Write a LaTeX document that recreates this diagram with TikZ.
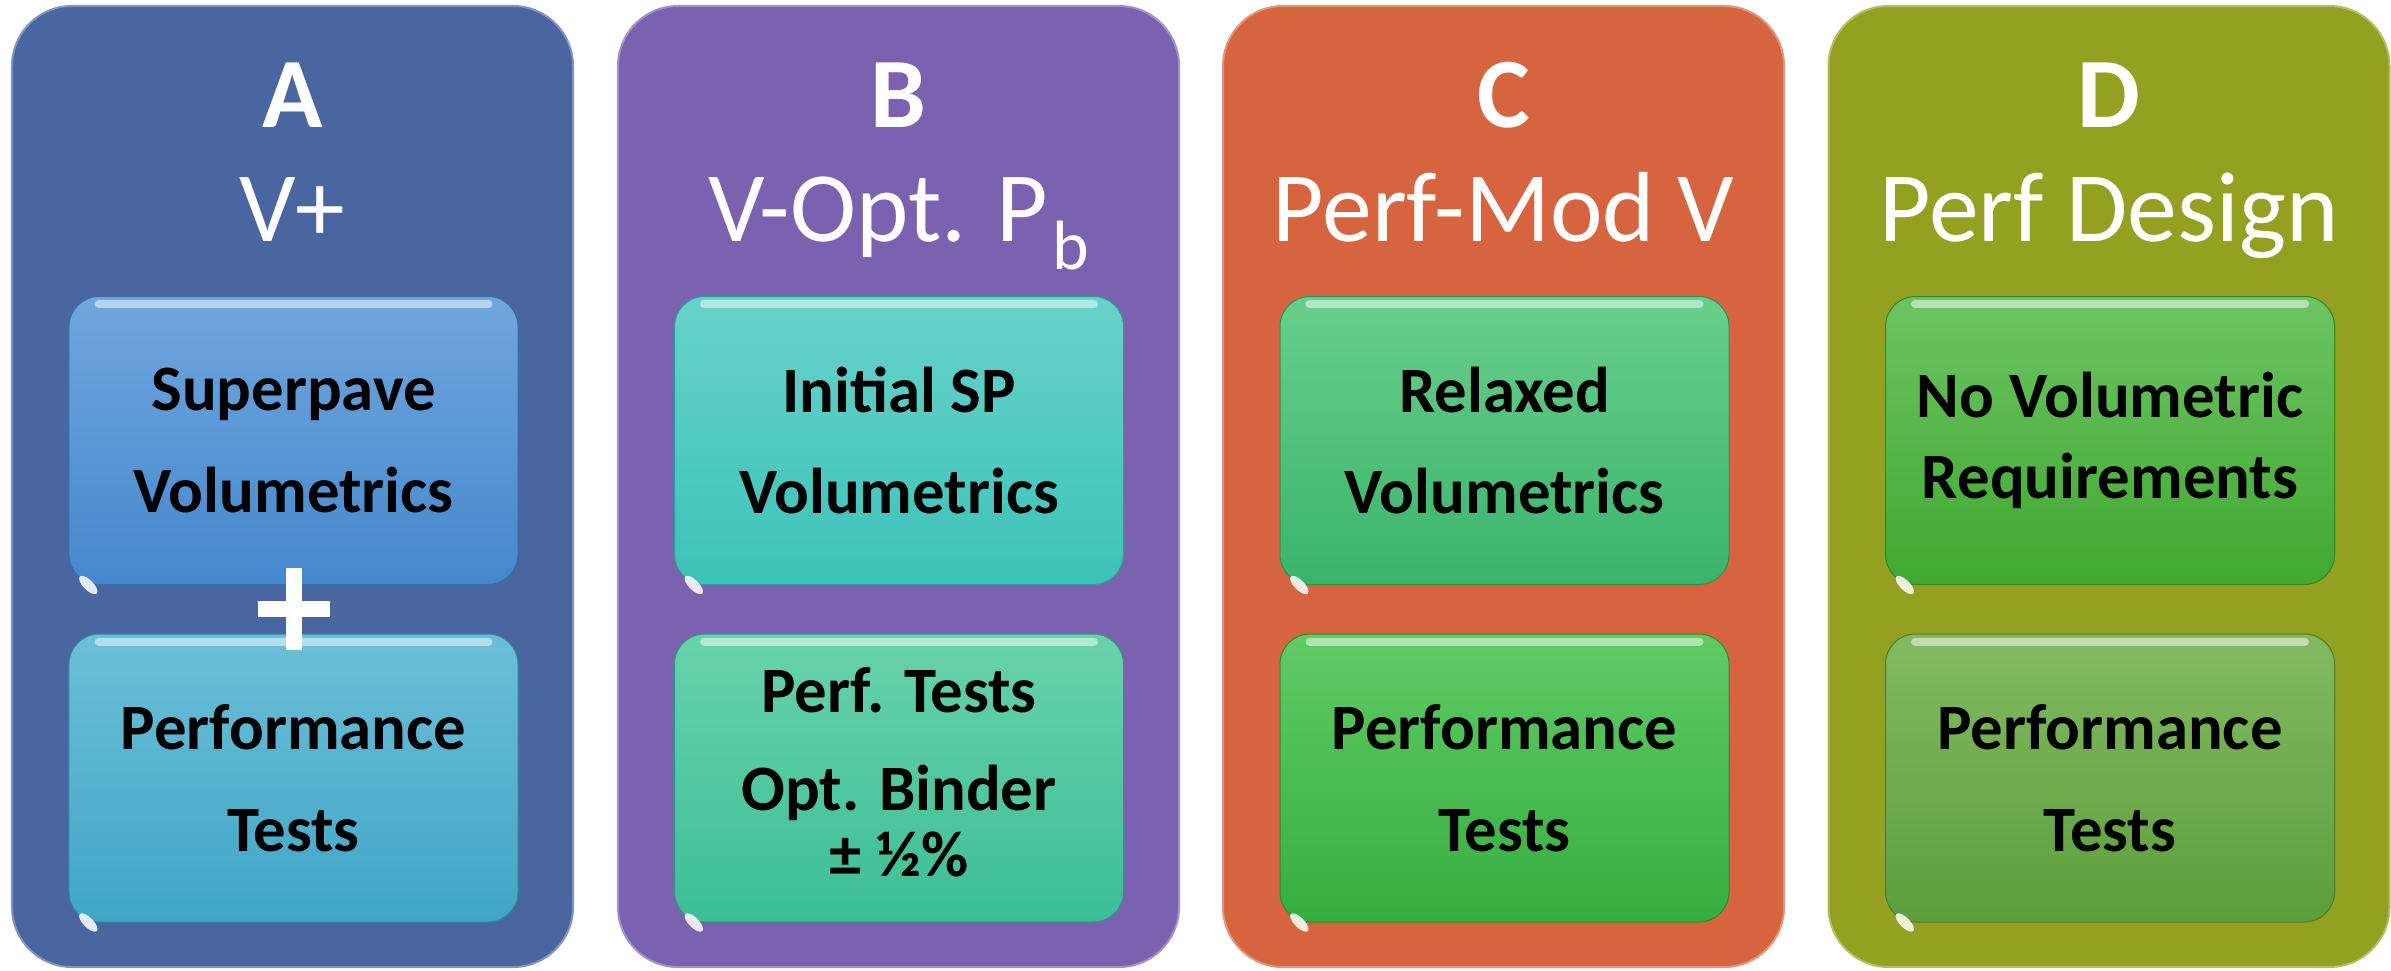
\documentclass[tikz,border=0pt]{standalone}
\usepackage{fontspec}
\setmainfont{Carlito}
\usetikzlibrary{calc}
\definecolor{pA}{HTML}{4A66A0}
\definecolor{pB}{HTML}{7A62B0}
\definecolor{pC}{HTML}{D6653F}
\definecolor{pD}{HTML}{93A020}
\definecolor{aT1}{HTML}{70A6DE}\definecolor{aT2}{HTML}{4488CC}
\definecolor{aB1}{HTML}{6CBED8}\definecolor{aB2}{HTML}{40A6C6}
\definecolor{bT1}{HTML}{68D2CA}\definecolor{bT2}{HTML}{3CC2B8}
\definecolor{bB1}{HTML}{68D2AC}\definecolor{bB2}{HTML}{3CBE96}
\definecolor{cT1}{HTML}{68CE8C}\definecolor{cT2}{HTML}{3AB46A}
\definecolor{cB1}{HTML}{60CA64}\definecolor{cB2}{HTML}{36AE40}
\definecolor{dT1}{HTML}{6CC462}\definecolor{dT2}{HTML}{40A830}
\definecolor{dB1}{HTML}{82BA62}\definecolor{dB2}{HTML}{5C9E3A}
\tikzset{
  panel/.style={rounded corners=60bp, minimum width=561bp, minimum height=961bp,
    inner sep=0pt, fill=#1, draw=#1!70!white, line width=2bp},
  box/.style 2 args={rounded corners=30bp, minimum width=449bp, minimum height=288bp,
    inner sep=0pt, top color=#1, bottom color=#2, draw=#2!80!black, line width=1bp,
    align=center, text=black, font=\bfseries\fontsize{65}{102}\selectfont},
  letter/.style={anchor=base, text=white, font=\bfseries\fontsize{100}{100}\selectfont},
  subtitle/.style={anchor=base, text=white, font=\fontsize{100}{100}\selectfont},
  gloss/.style={white, opacity=0.5, line width=8bp, line cap=round},
  blob/.style={white, opacity=0.85},
  plussign/.style={white, line width=16bp}
}
\begin{document}
\begin{tikzpicture}[x=1bp, y=-1bp]
\useasboundingbox (0,0) rectangle (2391,970);
% panels
\node[panel=pA] (PA) at (292.5,486.5) {};
\node[panel=pB] (PB) at (898.5,486.5) {};
\node[panel=pC] (PC) at (1503.5,486.5) {};
\node[panel=pD] (PD) at (2109,486.5) {};
% titles
\node[letter] (tA) at (292.5,127) {A};
\node[subtitle] (sA) at (292.5,241) {V+};
\node[letter] (tB) at (898.5,127) {B};
\node[subtitle] (sB) at (898.5,241) {V-Opt. P\kern4bp\raisebox{-28bp}{\fontsize{70}{70}\selectfont b}};
\node[letter] (tC) at (1503.5,127) {C};
\node[subtitle] (sC) at (1503.5,241) {Perf-Mod V};
\node[letter] (tD) at (2109,127) {D};
\node[subtitle] (sD) at (2109,241) {Perf Design};
% inner boxes
\node[box={aT1}{aT2}] (A1) at (293.5,440.5) {Superpave\\Volumetrics};
\node[box={aB1}{aB2}] (A2) at (293.5,778) {Performance\\Tests};
\node[box={bT1}{bT2}] (B1) at (899,440.5) {Initial SP\\Volumetrics};
\node[box={bB1}{bB2}] (B2) at (899,778) {};
\node[align=center, text=black, font=\bfseries\fontsize{65}{99}\selectfont] (B2t) at ([yshift=6bp]B2.center) {Perf. Tests\\Opt. Binder\\[-33bp]± ½\%};
\node[box={cT1}{cT2}] (C1) at (1504.5,440.5) {Relaxed\\Volumetrics};
\node[box={cB1}{cB2}] (C2) at (1504.5,778) {Performance\\Tests};
\node[box={dT1}{dT2}, font=\bfseries\fontsize{65}{81}\selectfont] (D1) at (2110,440.5) {No Volumetric\\Requirements};
\node[box={dB1}{dB2}] (D2) at (2110,778) {Performance\\Tests};
% gloss highlights and corner blobs
\foreach \b in {A1,A2,B1,B2,C1,C2,D1,D2}{
  \draw[gloss] ([xshift=30bp,yshift=-8bp]\b.north west) -- ([xshift=-30bp,yshift=-8bp]\b.north east);
  \fill[blob, rotate around={-45:([xshift=14bp,yshift=14bp]\b.south west)}]
    ([xshift=14bp,yshift=14bp]\b.south west) ellipse [x radius=12bp, y radius=5bp];
}
% plus sign between boxes of panel A
\coordinate (plusc) at ($(A1.south)!0.5!(A2.north)$);
\draw[plussign] ([yshift=41bp]plusc) -- ([yshift=-41bp]plusc);
\draw[plussign] ([xshift=-36bp]plusc) -- ([xshift=36bp]plusc);
\end{tikzpicture}
\end{document}
